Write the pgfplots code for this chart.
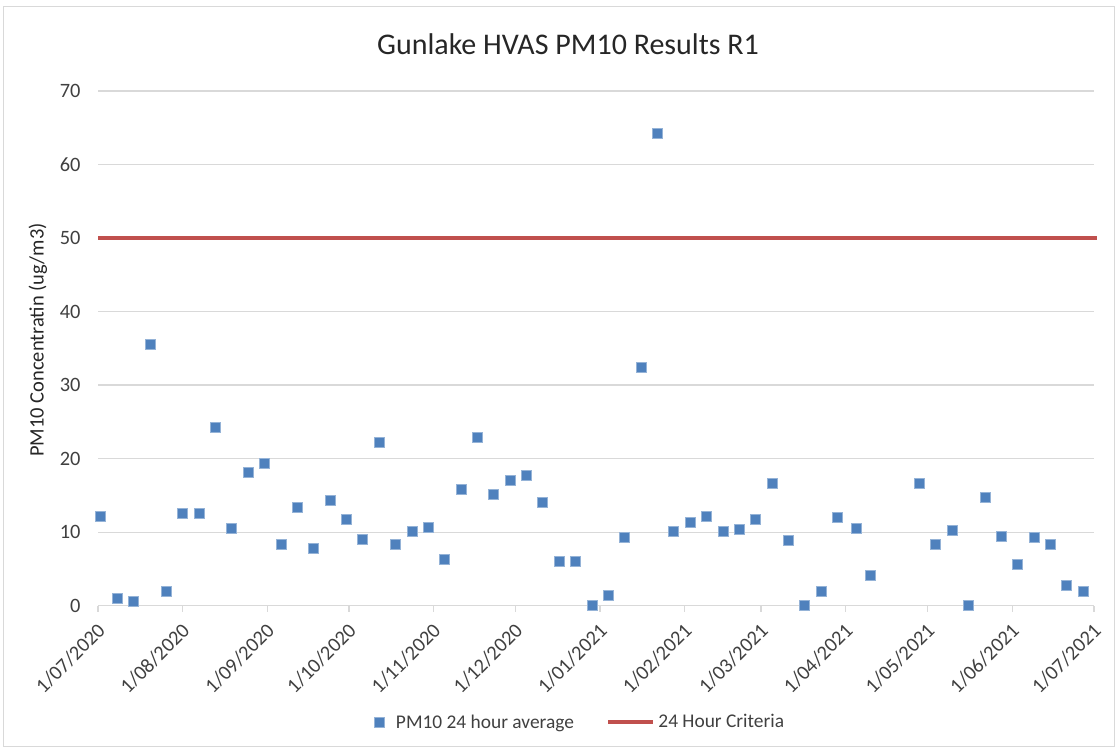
\documentclass[border=0pt]{standalone}
\usepackage{pgfplots}
\pgfplotsset{compat=1.18}
\usepackage{fontspec}
\setmainfont{Carlito}
\definecolor{ser}{HTML}{4F81BD}
\definecolor{crit}{HTML}{C0504D}
\definecolor{gridc}{HTML}{D9D9D9}
\definecolor{txt}{HTML}{404040}
\pgfplotstableread{
day value
1 12.2
7 1.0
13 0.55
19 35.5
25 1.9
31 12.6
37 12.6
43 24.3
49 10.5
55 18.1
61 19.4
67 8.4
73 13.4
79 7.8
85 14.3
91 11.8
97 9.0
103 22.2
109 8.3
115 10.1
121 10.6
127 6.3
133 15.8
139 22.9
145 15.1
151 17.0
157 17.7
163 14.05
169 6.1
175 6.0
181 0.1
187 1.4
193 9.3
199 32.4
205 64.2
211 10.1
217 11.4
223 12.2
229 10.1
235 10.4
241 11.7
247 16.6
253 8.9
259 0.0
265 2.0
271 12.0
278 10.5
283 4.2
301 16.7
307 8.3
313 10.3
319 0.1
325 14.7
331 9.4
337 5.6
343 9.3
349 8.4
355 2.8
361 2.0
}\pmdata
\begin{document}
\begin{tikzpicture}[x=1pt,y=1pt]
\useasboundingbox (0,0) rectangle (1118,751);
\draw[gridc, line width=1pt] (3.5,4) rectangle (1114.5,744);
\node[font=\fontsize{30}{34}\selectfont, text=black!85] at (568,707) {Gunlake HVAS PM10 Results R1};
\node[font=\fontsize{20.5}{23}\selectfont, rotate=90, text=black!85] at (38,411) {PM10 Concentratin (ug/m3)};
\begin{axis}[
  at={(98pt,145.3pt)}, anchor=south west,
  scale only axis, width=996pt, height=514.7pt,
  xmin=0, xmax=365, ymin=0, ymax=70,
  ytick={0,10,...,70},
  xtick={0,31,62,92,123,153,184,215,243,274,304,335,365},
  xticklabels={1/07/2020,1/08/2020,1/09/2020,1/10/2020,1/11/2020,1/12/2020,1/01/2021,1/02/2021,1/03/2021,1/04/2021,1/05/2021,1/06/2021,1/07/2021},
  /pgf/number format/assume math mode=true,
  axis x line*=bottom, axis y line*=left,
  y axis line style={draw=none},
  x axis line style={gridc, line width=1.3pt},
  ytick style={draw=none},
  xtick style={draw=gridc, line width=1.3pt},
  tick align=outside, major tick length=6pt,
  ymajorgrids, major grid style={gridc, line width=1.3pt},
  tick label style={font=\fontsize{20.4}{23}\selectfont, text=txt},
  xticklabel shift=14pt,
  xticklabel style={xshift=5pt, rotate=45, anchor=east, inner sep=2pt},
  yticklabel style={xshift=-8pt},
  clip=false,
  legend columns=2,
  legend cell align=left,
  legend style={at={(0.484,-0.226)}, anchor=center, draw=none, fill=none,
    font=\fontsize{19.4}{22}\selectfont, text=txt,
    /tikz/every odd column/.append style={column sep=10pt},
    /tikz/every even column/.append style={column sep=30pt}},
]
\addplot[only marks, mark=square*, mark size=5pt, mark options={fill=ser, draw=ser!60!white, line width=0.6pt}]
  table[x=day, y=value] {\pmdata};
\addlegendentry{PM10 24 hour average}
\addplot[crit, line width=4.5pt, legend image code/.code={\draw[crit, line width=4.5pt] (-20pt,0pt) -- (16pt,0pt); \draw[crit, line width=4.5pt, overlay] (15pt,0pt) -- (25pt,0pt);}]
  coordinates {(0,50) (366,50)};
\addlegendentry{24 Hour Criteria}
\end{axis}
\end{tikzpicture}
\end{document}
